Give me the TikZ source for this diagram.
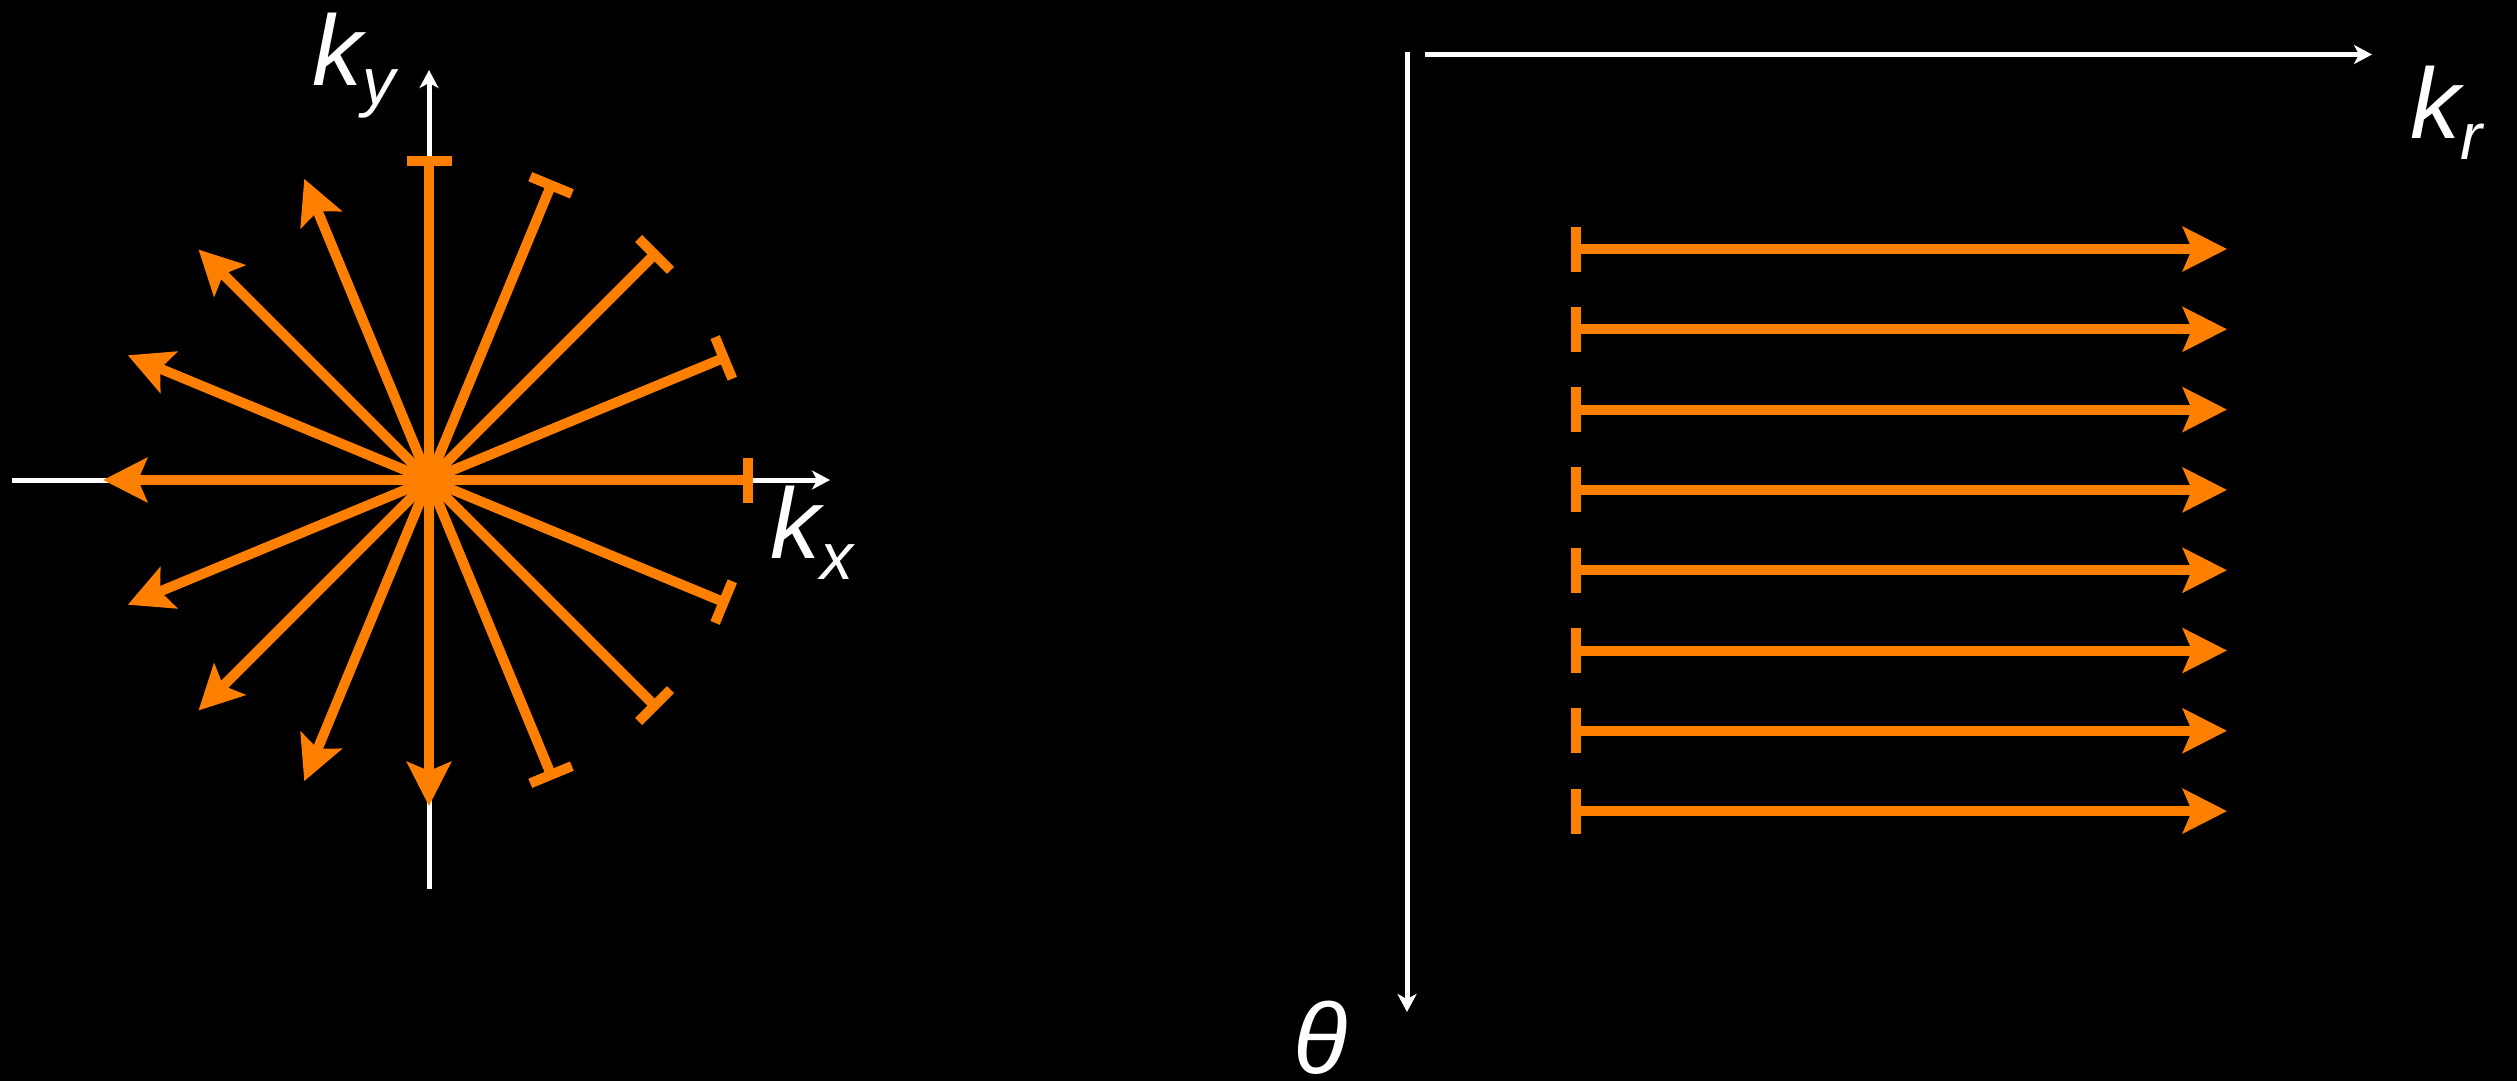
\documentclass[tikz,border=0pt]{standalone}
\usepackage{fontspec}
\setmainfont{Liberation Sans}
\usetikzlibrary{arrows.meta,calc}
\definecolor{traj}{RGB}{255,128,0}
\begin{document}
\begin{tikzpicture}[x=1pt,y=-1pt,
  axis/.style={draw=white,line width=5pt,-{Stealth[length=18pt,width=19pt,inset=5pt]}},
  spoke/.style={draw=traj,line width=10pt,{Bar[width=45pt]}-{Stealth[length=44pt,width=44pt,inset=9pt]}},
  lab/.style={text=white,inner sep=0pt,anchor=base west,font=\fontsize{100}{110}\selectfont\itshape}]
\fill[black] (0,0) rectangle (2517,1081);
\useasboundingbox (0,0) rectangle (2517,1081);
% left panel axes
\coordinate (xl) at (12,480);
\coordinate (xr) at (830,480);
\coordinate (yb) at (429,889);
\coordinate (yt) at (429,70);
\draw[axis] (xl) -- (xr);
\draw[axis] (yb) -- (yt);
% radial spokes
\coordinate (c) at (429,480);
\foreach \a [count=\i] in {90,67.5,45,22.5,0,-22.5,-45,-67.5}{
  \coordinate (b\i) at ($(c)+(\a:324pt)$);
  \coordinate (h\i) at ($(c)+(\a+180:326pt)$);
  \draw[spoke] (b\i) -- (h\i);
}
% right panel axes
\coordinate (vt) at (1407,52);
\coordinate (vb) at (1407,1012);
\coordinate (hl) at (1425,54.5);
\coordinate (hr) at (2372,54.5);
\draw[axis] (vt) -- (vb);
\draw[axis] (hl) -- (hr);
% parallel lines
\foreach \i in {0,...,7}{
  \coordinate (s\i) at (1571,249+80.3*\i);
  \coordinate (e\i) at (2227,249+80.3*\i);
  \draw[spoke] (s\i) -- (e\i);
}
% labels
\node[lab] (ky) at (312,85) {k\raisebox{-19pt}{\fontsize{66}{70}\selectfont y}};
\node[lab] (kx) at (770,558) {k\raisebox{-21pt}{\fontsize{66}{70}\selectfont x}};
\node[lab] (kr) at (2410,138) {k\raisebox{-21pt}{\fontsize{66}{70}\selectfont r}};
\node[lab,anchor=base] (th) at (1321,1073) {θ};
\end{tikzpicture}
\end{document}
